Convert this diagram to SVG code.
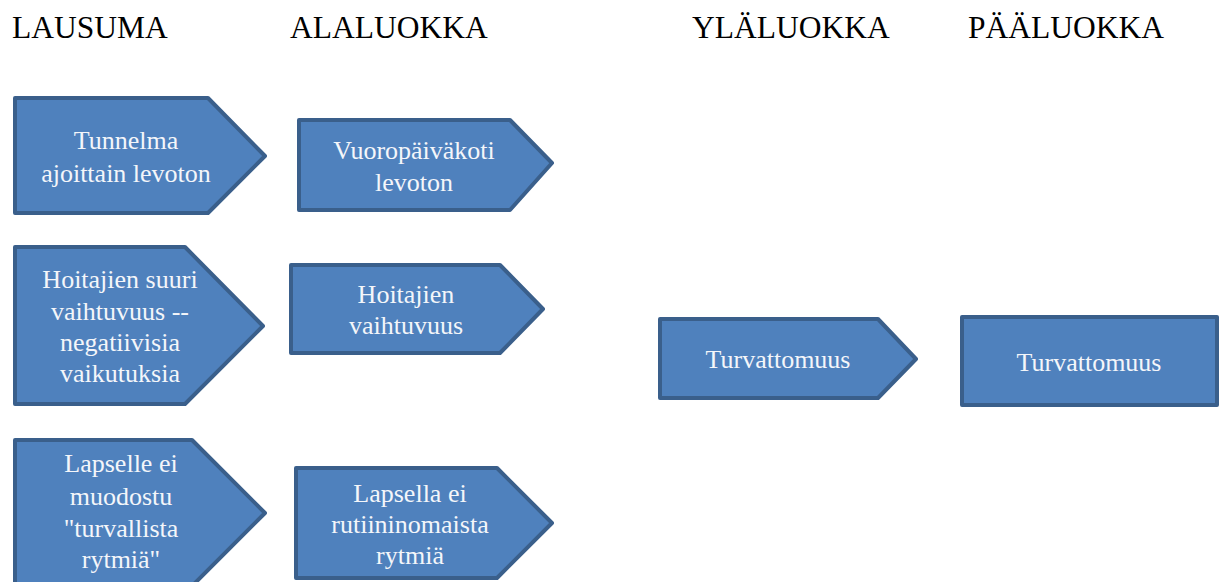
<svg xmlns="http://www.w3.org/2000/svg" width="1229" height="582" viewBox="0 0 1229 582">
<style>
.hdr{font-family:'Liberation Serif','Times New Roman',serif;font-size:31.5px;fill:#000}
.shape{fill:#4f81bd;stroke:#3a5f8b;stroke-width:4;stroke-linejoin:round}
.lbl{font-family:'Liberation Serif','Times New Roman',serif;font-size:26px;fill:#f4f6fa;text-anchor:middle}
</style>
<rect width="1229" height="582" fill="#fff"/>
<g id="headers" font-family="Liberation Serif, serif">
<text class="hdr" x="12" y="38">LAUSUMA</text>
<text class="hdr" x="290" y="38">ALALUOKKA</text>
<text class="hdr" x="692" y="38">YLÄLUOKKA</text>
<text class="hdr" x="968" y="38">PÄÄLUOKKA</text>
</g>
<g id="connectors"></g>
<g id="nodes" font-family="Liberation Serif, serif">
<g id="n1">
<path class="shape" d="M15,98 H208 L265,156 L208,213 H15 Z"/>
<text class="lbl" x="126" y="149">Tunnelma</text>
<text class="lbl" x="126" y="182">ajoittain levoton</text>
</g>
<g id="n2">
<path class="shape" d="M299,120 H510 L552,163 L510,210 H299 Z"/>
<text class="lbl" x="414" y="159">Vuoropäiväkoti</text>
<text class="lbl" x="414" y="191">levoton</text>
</g>
<g id="n3">
<path class="shape" d="M15,247 H185 L263,326 L185,404 H15 Z"/>
<text class="lbl" x="120" y="288">Hoitajien suuri</text>
<text class="lbl" x="120" y="320">vaihtuvuus --</text>
<text class="lbl" x="120" y="351">negatiivisia</text>
<text class="lbl" x="120" y="382">vaikutuksia</text>
</g>
<g id="n4">
<path class="shape" d="M291,265 H500 L543,309 L500,353 H291 Z"/>
<text class="lbl" x="406" y="303">Hoitajien</text>
<text class="lbl" x="406" y="334">vaihtuvuus</text>
</g>
<g id="n5">
<path class="shape" d="M15,440 H192 L265,513 L192,586 H15 Z"/>
<text class="lbl" x="121" y="472">Lapselle ei</text>
<text class="lbl" x="121" y="505">muodostu</text>
<text class="lbl" x="121" y="537">"turvallista</text>
<text class="lbl" x="121" y="568">rytmiä"</text>
</g>
<g id="n6">
<path class="shape" d="M296,468 H497 L552,523 L497,578 H296 Z"/>
<text class="lbl" x="410" y="502">Lapsella ei</text>
<text class="lbl" x="410" y="533">rutiininomaista</text>
<text class="lbl" x="410" y="564">rytmiä</text>
</g>
<g id="n7">
<path class="shape" d="M660,319 H878 L916,359 L878,398 H660 Z"/>
<text class="lbl" x="778" y="368">Turvattomuus</text>
</g>
<g id="n8">
<rect class="shape" x="962" y="317" width="255" height="88"/>
<text class="lbl" x="1089" y="371">Turvattomuus</text>
</g>
</g>
</svg>
